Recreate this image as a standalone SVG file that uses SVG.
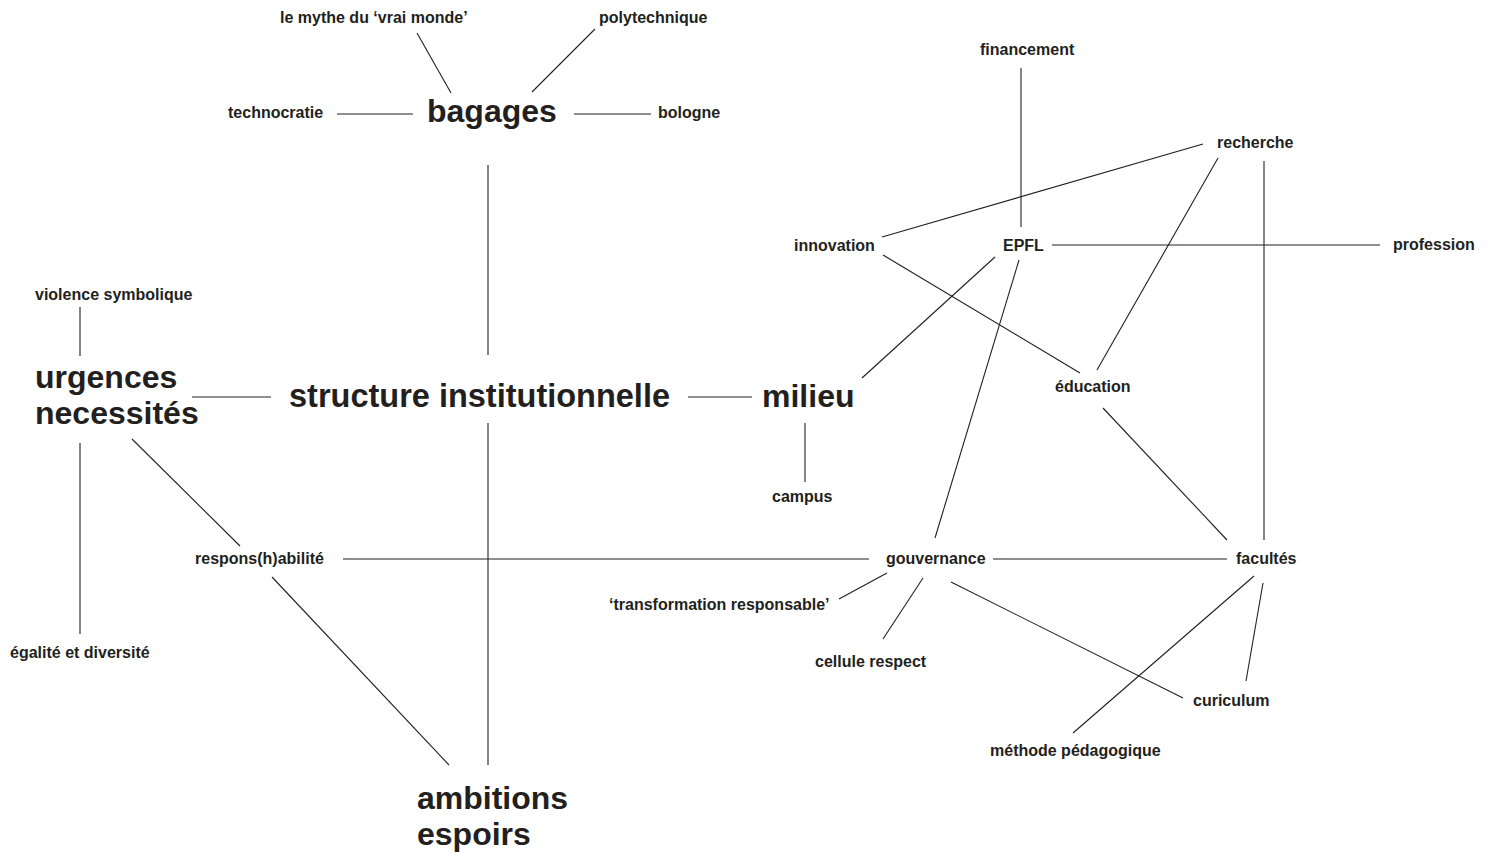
<svg xmlns="http://www.w3.org/2000/svg" width="1494" height="854" viewBox="0 0 1494 854">
<style>
text{font-family:"Liberation Sans",Arial,sans-serif;font-weight:bold;fill:#231f20}
.s{font-size:16px}
.b{font-size:32px}
#connectors line{stroke:#231f20;stroke-width:1.1;fill:none}
</style>
<rect width="1494" height="854" fill="#ffffff"/>
<g id="connectors">
<line x1="417" y1="33" x2="451" y2="93"/>
<line x1="595" y1="29" x2="532" y2="92"/>
<line x1="337" y1="114" x2="413" y2="114"/>
<line x1="574" y1="114" x2="651" y2="114"/>
<line x1="488" y1="165" x2="488" y2="355"/>
<line x1="488" y1="423" x2="488" y2="765"/>
<line x1="192" y1="397" x2="271" y2="397"/>
<line x1="688" y1="397" x2="752" y2="397"/>
<line x1="805" y1="423" x2="805" y2="482"/>
<line x1="862" y1="378" x2="995" y2="257"/>
<line x1="80" y1="307" x2="80" y2="356"/>
<line x1="80" y1="443" x2="80" y2="634"/>
<line x1="132" y1="439" x2="240" y2="546"/>
<line x1="272" y1="577" x2="449" y2="765"/>
<line x1="343" y1="559" x2="869" y2="559"/>
<line x1="993" y1="559" x2="1227" y2="559"/>
<line x1="1021" y1="68" x2="1021" y2="227"/>
<line x1="882" y1="237" x2="1203" y2="144"/>
<line x1="1052" y1="245" x2="1380" y2="245"/>
<line x1="883" y1="255" x2="1080" y2="373"/>
<line x1="1218" y1="158" x2="1097" y2="370"/>
<line x1="1264" y1="161" x2="1264" y2="540"/>
<line x1="1019" y1="260" x2="935" y2="538"/>
<line x1="1103" y1="408" x2="1227" y2="540"/>
<line x1="887" y1="573" x2="839" y2="599"/>
<line x1="923" y1="578" x2="883" y2="639"/>
<line x1="951" y1="582" x2="1183" y2="698"/>
<line x1="1254" y1="576" x2="1073" y2="733"/>
<line x1="1263" y1="583" x2="1246" y2="681"/>
</g>
<g id="n-mythe"><text class="s" x="280" y="23">le mythe du ‘vrai monde’</text></g>
<g id="n-polytechnique"><text class="s" x="599" y="23">polytechnique</text></g>
<g id="n-technocratie"><text class="s" x="228" y="118">technocratie</text></g>
<g id="n-bologne"><text class="s" x="658" y="118">bologne</text></g>
<g id="n-bagages"><text class="b" x="427" y="122">bagages</text></g>
<g id="n-financement"><text class="s" x="980" y="55">financement</text></g>
<g id="n-recherche"><text class="s" x="1217" y="148">recherche</text></g>
<g id="n-innovation"><text class="s" x="794" y="251">innovation</text></g>
<g id="n-epfl"><text class="s" x="1003" y="251">EPFL</text></g>
<g id="n-profession"><text class="s" x="1393" y="250">profession</text></g>
<g id="n-violence"><text class="s" x="35" y="300">violence symbolique</text></g>
<g id="n-urgences"><text class="b" x="35" y="388">urgences</text><text class="b" x="35" y="424">necessités</text></g>
<g id="n-structure"><text class="b" x="289" y="407" style="font-size:32.5px">structure institutionnelle</text></g>
<g id="n-milieu"><text class="b" x="762" y="407">milieu</text></g>
<g id="n-education"><text class="s" x="1055" y="392">éducation</text></g>
<g id="n-campus"><text class="s" x="772" y="502">campus</text></g>
<g id="n-responsabilite"><text class="s" x="195" y="564">respons(h)abilité</text></g>
<g id="n-gouvernance"><text class="s" x="886" y="564">gouvernance</text></g>
<g id="n-facultes"><text class="s" x="1236" y="564">facultés</text></g>
<g id="n-transformation"><text class="s" x="609" y="610">‘transformation responsable’</text></g>
<g id="n-cellule"><text class="s" x="815" y="667">cellule respect</text></g>
<g id="n-egalite"><text class="s" x="10" y="658">égalité et diversité</text></g>
<g id="n-curiculum"><text class="s" x="1193" y="706">curiculum</text></g>
<g id="n-methode"><text class="s" x="990" y="756">méthode pédagogique</text></g>
<g id="n-ambitions"><text class="b" x="417" y="809">ambitions</text><text class="b" x="417" y="845">espoirs</text></g>
</svg>
